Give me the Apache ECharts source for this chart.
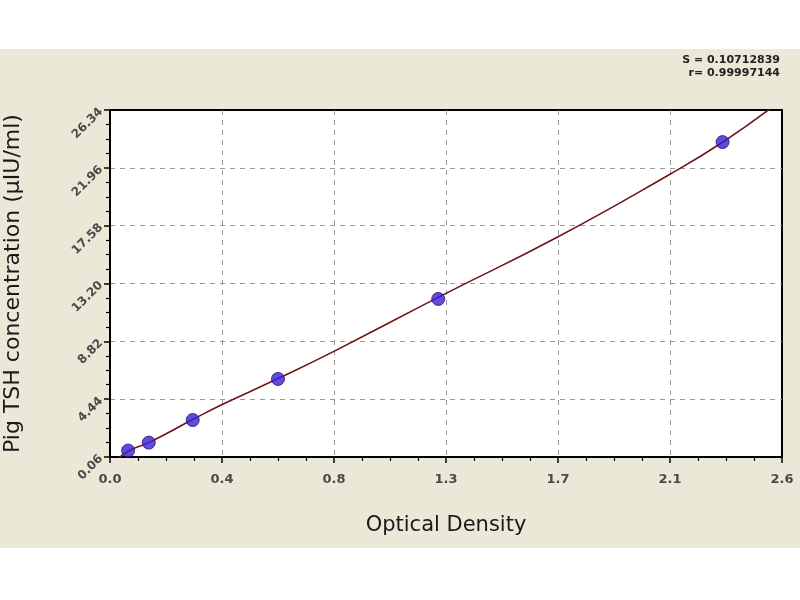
<!DOCTYPE html>
<html>
<head>
<meta charset="utf-8">
<script src="https://cdn.jsdelivr.net/npm/echarts@6/dist/echarts.min.js"></script>
<style>
  html, body { margin: 0; padding: 0; background: #ffffff; }
  #chart {
    width: 800px; height: 600px;
    background: linear-gradient(to bottom, #ffffff 0px, #ffffff 49px, #ebe8d8 49px, #ebe8d8 548px, #ffffff 548px, #ffffff 600px);
  }
</style>
</head>
<body>
<div id="chart"></div>
<script>
// ---- data ----
const OD = [0.07, 0.15, 0.32, 0.65, 1.27, 2.37];
const CONC = [0.55, 1.15, 2.86, 5.97, 12.03, 23.91];
const FIT_OD = [0.027, 0.07, 0.15, 0.32, 0.43, 0.65, 0.87, 1.30, 1.73, 2.16, 2.37, 2.565];
const FIT_CONC = [-0.17, 0.5, 1.15, 2.9, 4.0, 6.0, 8.1, 12.45, 16.7, 21.4, 23.9, 26.6];
const X_LABELS = ['0.0', '0.4', '0.8', '1.3', '1.7', '2.1', '2.6'];
const Y_LABELS = ['0.06', '4.44', '8.82', '13.20', '17.58', '21.96', '26.34'];
const X_MAX = 2.6;
const Y_MIN = 0.06;
const Y_MAX = 26.34;
const STAT_LINES = ['S = 0.10712839', 'r= 0.99997144'];

const xStep = X_MAX / (X_LABELS.length - 1);
const ySpan = Y_MAX - Y_MIN;
const yStep = ySpan / (Y_LABELS.length - 1);

const chart = echarts.init(document.getElementById('chart'));
const FONT = 'DejaVu Sans';

const option = {
  backgroundColor: 'transparent',
  animation: false,
  grid: {
    left: 110, right: 18, top: 110, bottom: 143,
    outerBoundsMode: 'none', containLabel: false,
    show: true, backgroundColor: '#ffffff', borderColor: '#000', borderWidth: 2
  },
  graphic: [
    { type: 'text', right: 20, top: 55, style: { text: STAT_LINES[0], font: 'bold 11px "DejaVu Sans"', fill: '#222', textAlign: 'right' } },
    { type: 'text', right: 20, top: 68, style: { text: STAT_LINES[1], font: 'bold 11px "DejaVu Sans"', fill: '#222', textAlign: 'right' } }
  ],
  xAxis: {
    type: 'value', min: 0, max: X_MAX, interval: xStep,
    name: 'Optical Density', nameLocation: 'middle', nameGap: 58,
    nameTextStyle: { fontFamily: FONT, fontSize: 21, color: '#1a1a1a' },
    axisLine: { show: true, lineStyle: { color: '#000', width: 2 } },
    axisTick: { show: true, length: 6, lineStyle: { color: '#000', width: 1.5 } },
    minorTick: { show: true, splitNumber: 4, length: 4, lineStyle: { color: '#000', width: 1.2 } },
    axisLabel: {
      margin: 16, fontFamily: FONT, fontSize: 13, fontWeight: 'bold', color: '#4a4a4a',
      formatter: v => X_LABELS[Math.round(v / xStep)] || ''
    },
    splitLine: { show: true, showMinLine: false, showMaxLine: false, lineStyle: { color: '#9a9a9a', type: [5, 5], width: 1 } }
  },
  yAxis: {
    type: 'value', min: 0, max: ySpan, interval: yStep,
    name: 'Pig TSH concentration (μIU/ml)', nameLocation: 'middle', nameGap: 86, nameRotate: 90,
    nameTextStyle: { fontFamily: FONT, fontSize: 22, color: '#1a1a1a' },
    axisLine: { show: true, lineStyle: { color: '#000', width: 2 } },
    axisTick: { show: true, length: 6, lineStyle: { color: '#000', width: 1.5 } },
    minorTick: { show: true, splitNumber: 4, length: 4, lineStyle: { color: '#000', width: 1.2 } },
    axisLabel: {
      margin: 9, rotate: 45, fontFamily: FONT, fontSize: 12, fontWeight: 'bold', color: '#4a4a4a',
      formatter: v => Y_LABELS[Math.round(v / yStep)] || ''
    },
    splitLine: { show: true, showMinLine: false, showMaxLine: false, lineStyle: { color: '#9a9a9a', type: [5, 5], width: 1 } }
  },
  series: [
    {
      type: 'line', smooth: true, showSymbol: false, clip: true,
      data: FIT_OD.map((x, i) => [x, FIT_CONC[i] - Y_MIN]),
      lineStyle: { color: '#6e1616', width: 1.6 },
      z: 2
    },
    {
      type: 'scatter', symbol: 'circle', symbolSize: 13,
      data: OD.map((x, i) => [x, CONC[i] - Y_MIN]),
      itemStyle: { color: '#3a1fd0', borderColor: '#22117a', borderWidth: 1 },
      z: 3
    }
  ]
};
chart.setOption(option);
</script>
</body>
</html>
